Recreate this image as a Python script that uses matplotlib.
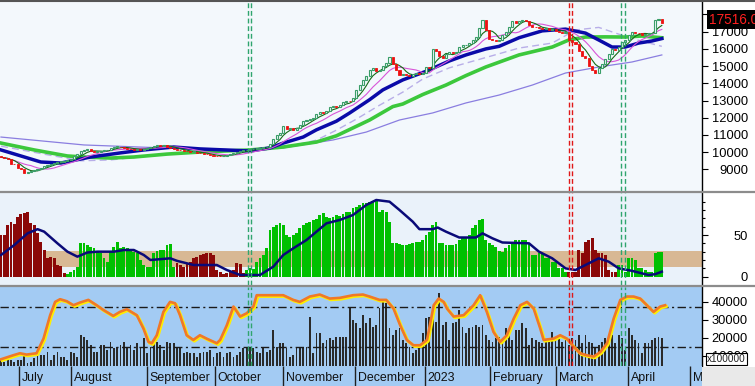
import matplotlib
matplotlib.use('Agg')
import matplotlib.pyplot as plt
import matplotlib.transforms as mtransforms
from matplotlib.patches import Rectangle
from matplotlib.lines import Line2D
import numpy as np
import pandas as pd

plt.rcParams['font.family'] = ['Liberation Sans', 'DejaVu Sans']

# ---- price candles (one per trading day) ----
closes = [
    9700, 9650, 9580, 9340, 9300, 9100, 9000, 8800, 8850, 8900,
    8980, 9050, 9100, 9180, 9250, 9330, 9400, 9420, 9450, 9500,
    9560, 9600, 9750, 9900, 10040, 10100, 10160, 10080, 10000, 10020,
    10050, 10100, 10150, 10220, 10300, 10330, 10280, 10250, 10200, 10180,
    10150, 10180, 10150, 10200, 10250, 10300, 10380, 10420, 10380, 10400,
    10300, 10250, 10200, 10150, 10100, 10080, 10050, 10000, 10020, 9980,
    9950, 9900, 9870, 9820, 9800, 9760, 9750, 9800, 9850, 9900,
    9950, 10000, 10050, 10100, 10150, 10170, 10180, 10200, 10230, 10280,
    10300, 10500, 10750, 11000, 11100, 11500, 11350, 11380, 11300, 11400,
    11600, 11800, 11850, 11900, 12000, 12200, 12360, 12300, 12400, 12600,
    12700, 12650, 12750, 12900, 13000, 12950, 13170, 13640, 13900, 14200,
    14400, 14800, 14900, 14700, 14800, 15000, 15200, 15550, 15100, 14800,
    14500, 14550, 14500, 14400, 14550, 14600, 14550, 14600, 14970, 14900,
    16000, 15900, 15600, 15500, 15700, 15800, 15750, 15850, 16100, 16200,
    16250, 16350, 16500, 16700, 17200, 17700, 17100, 16600, 16500, 16450,
    16500, 16800, 17000, 17300, 17600, 17500, 17600, 17700, 17650, 17400,
    17300, 17250, 17200, 17150, 17200, 17100, 17150, 17050, 17000, 16950,
    17000, 16500, 16400, 16300, 15900, 15600, 15500, 15000, 14800, 14600,
    14900, 15100, 15400, 15700, 16000, 15950, 16100, 16400, 16500, 16800,
    17000, 16950, 16900, 16800, 16850, 16900, 16950, 17700, 17750, 17516,
]
opens = [
    9800, 9700, 9650, 9580, 9340, 9300, 9100, 9000, 8800, 8850,
    8900, 8980, 9050, 9100, 9180, 9250, 9330, 9400, 9420, 9450,
    9500, 9560, 9600, 9750, 9900, 10040, 10100, 10160, 10080, 10000,
    10020, 10050, 10100, 10150, 10220, 10300, 10330, 10280, 10250, 10200,
    10180, 10150, 10180, 10150, 10200, 10250, 10300, 10380, 10420, 10380,
    10400, 10300, 10250, 10200, 10150, 10100, 10080, 10050, 10000, 10020,
    9980, 9950, 9900, 9870, 9820, 9800, 9760, 9750, 9800, 9850,
    9900, 9950, 10000, 10050, 10100, 10150, 10170, 10180, 10200, 10230,
    10280, 10300, 10500, 10750, 11000, 11100, 11500, 11350, 11380, 11300,
    11400, 11600, 11800, 11850, 11900, 12000, 12200, 12360, 12300, 12400,
    12600, 12700, 12650, 12750, 12900, 13000, 12950, 13170, 13640, 13900,
    14200, 14400, 14800, 14900, 14700, 14800, 15000, 15200, 15550, 15100,
    14800, 14500, 14550, 14500, 14400, 14550, 14600, 14550, 14600, 14970,
    14900, 16000, 15900, 15600, 15500, 15700, 15800, 15750, 15850, 16100,
    16200, 16250, 16350, 16500, 16700, 17200, 17700, 17100, 16600, 16500,
    16450, 16500, 16800, 17000, 17300, 17600, 17500, 17600, 17700, 17650,
    17400, 17300, 17250, 17200, 17150, 17200, 17100, 17150, 17050, 17000,
    16950, 17000, 16500, 16400, 16300, 15900, 15600, 15500, 15000, 14800,
    14600, 14900, 15100, 15400, 15700, 16000, 15950, 16100, 16400, 16500,
    16800, 17000, 16950, 16900, 16800, 16850, 16900, 16950, 17700, 17750,
]
last_price = '17516.0'

# ---- longer moving averages (bar index, value) ----
navy_idx = [0, 12, 18, 27, 36, 43, 52, 60, 75, 81, 85, 91, 95, 101, 105, 111, 115, 121,
            128, 135, 140, 146, 150, 156, 163, 170, 176, 180, 184, 188, 192, 196, 199]
navy_val = [10130, 9430, 9370, 9720, 9960, 10130, 10300, 10190, 10070, 10250, 10530, 10880,
            11300, 11800, 12280, 13050, 13620, 14200, 14700, 15300, 15650, 16000, 16150,
            16650, 17050, 17150, 16920, 16520, 16110, 16110, 16340, 16460, 16600]
lime_idx = [0, 10, 20, 25, 33, 40, 50, 60, 75, 85, 95, 101, 111, 118, 121, 127, 134, 140,
            146, 156, 166, 171, 176, 182, 188, 193, 199]
lime_val = [10530, 10130, 9780, 9720, 9660, 9720, 9890, 10010, 10130, 10300, 10590, 10950,
            11870, 12650, 12800, 13350, 13900, 14450, 14950, 15650, 16110, 16520, 16690,
            16700, 16690, 16750, 16650]
slow_idx = [0, 25, 50, 75, 85, 100, 110, 120, 130, 140, 150, 160, 170, 180, 190, 199]
slow_val = [10880, 10420, 10240, 10130, 10250, 10710, 11170, 11870, 12280, 12860, 13320,
            13900, 14600, 14950, 15240, 15650]
dash_idx = [0, 14, 24, 33, 43, 60, 75, 85, 95, 101, 107, 114, 121, 127, 135, 146, 156,
            166, 173, 180, 190, 199]
dash_val = [10350, 9850, 9500, 9550, 9750, 10050, 10050, 10250, 10700, 11280, 11920, 12730,
            13490, 14250, 14900, 15500, 16050, 16340, 17100, 17250, 16600, 16150]

# ---- middle indicator ----
mid_vals = [
    50, 50, 62, 65, 63, 72, 75, 76, 78, 64,
    62, 52, 42, 32, 22, 24, 22, 14, 13, 4,
    3, 5, 8, 12, 40, 40, 38, 36, 34, 30,
    28, 22, 18, 30, 36, 42, 34, 35, 34, 31,
    30, 28, 20, 14, 12, 12, 28, 31, 32, 32,
    38, 39, 12, 16, 14, 12, 16, 18, 22, 24,
    26, 27, 28, 28, 26, 8, 5, 3, 4, 6,
    8, 16, 15, 4, 8, 10, 9, 18, 22, 26,
    34, 56, 60, 62, 64, 62, 50, 48, 50, 52,
    58, 62, 64, 66, 68, 69, 74, 76, 72, 70,
    72, 74, 73, 75, 77, 78, 82, 84, 86, 88,
    88, 90, 91, 92, 78, 80, 78, 66, 40, 40,
    39, 38, 38, 39, 40, 42, 42, 44, 50, 54,
    62, 66, 40, 40, 38, 38, 38, 39, 44, 46,
    48, 50, 58, 62, 68, 69, 44, 40, 38, 36,
    31, 30, 34, 38, 42, 44, 44, 44, 44, 40,
    26, 26, 28, 28, 22, 22, 18, 18, 10, 10,
    6, 6, 6, 6, 32, 28, 42, 44, 46, 32,
    28, 28, 26, 8, 6, 6, 14, 14, 6, 22,
    22, 20, 10, 10, 8, 6, 6, 28, 30, 30,
]
# first bar of each colour run: 'r' = falling side, 'g' = rising side
mid_runs = [(0, 'r'), (20, 'g'), (53, 'r'), (74, 'g'), (171, 'r'), (186, 'g')]
adx_idx = [0, 4, 8, 11, 13, 17, 20, 23, 26, 29, 34, 37, 40, 43, 45, 51, 53, 58, 65, 68, 72,
           78, 82, 85, 88, 92, 95, 98, 102, 106, 110, 113, 117, 120, 124, 126, 130, 131.5,
           134, 138, 143, 145, 148, 151, 159, 162, 166, 170, 173, 176, 180, 183, 186, 190,
           193, 195, 197, 199]
adx_val = [26, 38, 52, 57, 54, 40, 30, 24, 29, 30, 30, 32, 32, 26, 20, 22, 19, 14, 14, 8, 2,
           2, 12, 26, 34, 44, 54, 64, 68, 74, 86, 92, 90, 80, 66, 57, 57, 59, 54, 47, 47, 52,
           46, 41, 40, 30, 22, 10, 8, 14, 22, 18, 10, 7, 4, 2, 3, 6]
band_lo, band_hi, band_from = 11, 31, 13

# ---- volume (x100000) and oscillator ----
volume = [
    7500, 6600, 9400, 7500, 6600, 7500, 7500, 11300, 5700, 6600,
    8500, 13100, 10300, 10300, 12200, 7500, 10300, 12200, 9400, 9400,
    7500, 12200, 11300, 9400, 21500, 20600, 18700, 15900, 12200, 12200,
    15900, 15900, 13100, 17800, 14100, 15000, 15900, 17800, 15000, 15900,
    13100, 16900, 15000, 19700, 11300, 15000, 16900, 17800, 15900, 13100,
    17800, 16900, 16900, 14100, 15000, 11300, 12200, 11300, 11300, 9400,
    11300, 12200, 12200, 13100, 9400, 11300, 12200, 9400, 11300, 12200,
    9400, 10300, 12200, 14100, 14100, 14100, 14100, 12200, 11300, 14100,
    12200, 13100, 24300, 15000, 16900, 16900, 14100, 9400, 10300, 14100,
    15000, 15000, 15000, 31700, 11300, 22400, 22400, 16900, 18700, 19700,
    18700, 20600, 20600, 20600, 20600, 36400, 29900, 28000, 25200, 32700,
    28000, 30800, 26200, 27100, 36400, 40100, 39200, 25200, 21500, 24300,
    25200, 18700, 16900, 15000, 11300, 13100, 14100, 22400, 30800, 31700,
    32700, 29000, 44800, 27100, 29000, 18700, 28000, 29000, 35500, 26200,
    22400, 25200, 26200, 27100, 26200, 27100, 21500, 18700, 17800, 19700,
    20600, 17800, 25200, 24300, 18700, 24300, 24300, 28000, 25200, 15900,
    19700, 18700, 17800, 16900, 17800, 19700, 23400, 19700, 21500, 17800,
    18700, 15900, 19700, 18700, 21500, 16900, 21500, 17800, 16900, 15000,
    15900, 17800, 19700, 18700, 21500, 16900, 21500, 19700, 13100, 25200,
    21500, 18700, 16900, 11300, 16900, 16900, 18700, 19700, 20600, 19700,
]
osc_idx = [0, 3.7, 5.7, 7.7, 10.7, 12.8, 14.8, 16.3, 17.8, 19.8, 21.8, 23.8, 26.3, 28.8,
           30.8, 33.8, 35.8, 37.9, 40.9, 42.9, 44.4, 45.4, 46.9, 48.9, 50.9, 52.4, 53.9,
           55.9, 57.9, 59.9, 61.9, 65, 66, 68, 70, 72, 74, 76, 77, 80, 85, 88, 90, 93, 96,
           99, 102, 106, 109, 111, 114, 116, 118.2, 120.2, 122.2, 124.2, 126.2, 128.3,
           130.3, 131.8, 133.3, 134.3, 136.3, 139.3, 142.3, 144.3, 146.3, 148.3, 150.3,
           152.3, 154.4, 156.4, 158.4, 160.4, 162.4, 163.4, 166.4, 168.4, 170.4, 172.4,
           174.4, 176.4, 178.5, 180.5, 182.5, 184.5, 186.5, 188.5, 190.5, 192.5, 194.5,
           196.5, 198.5, 200]
osc_val = [2, 8, 11, 9, 11, 33, 68, 88, 92, 89, 83, 87, 91, 83, 76, 67, 73, 77, 68, 48, 28,
           26, 38, 73, 88, 86, 68, 38, 31, 38, 33, 26, 31, 53, 81, 66, 71, 81, 98, 98, 98, 91,
           88, 96, 99, 93, 94, 98, 99, 96, 91, 91, 78, 53, 31, 23, 23, 31, 83, 93, 88, 78, 66,
           68, 83, 98, 73, 43, 28, 38, 63, 83, 88, 78, 48, 31, 33, 38, 33, 21, 11, 8, 6, 13,
           26, 63, 91, 96, 96, 93, 83, 73, 81, 83]
osc_levels = [20, 80]

month_names = ['July', 'August', 'September', 'October', 'November', 'December',
               '2023', 'February', 'March', 'April', 'M']
month_pos = [5.4, 21.1, 44.0, 64.5, 85.0, 106.6, 127.7, 147.3, 167.2, 188.9, 207.5]
sig_green = [74.4, 75.3, 186.7, 188.0]
sig_red = [171.1, 172.0]

# ---------------------------------------------------------------
W, H = 755, 386
fig = plt.figure(figsize=(7.55, 3.86), dpi=100)
fig.patch.set_facecolor('white')


def rect(x0, y0, x1, y1):
    return [x0 / W, 1 - y1 / H, (x1 - x0) / W, (y1 - y0) / H]


ax1 = fig.add_axes(rect(0, 2, 702, 191), facecolor='#f3f8fc')
ax2 = fig.add_axes(rect(0, 193, 702, 285), facecolor='#eaf2fa')
ax3 = fig.add_axes(rect(0, 287, 702, 366), facecolor='#a3cbf3')
ax3o = fig.add_axes(rect(0, 287, 702, 366), facecolor='none')
ax4 = fig.add_axes(rect(0, 366, 702, 386), facecolor='#a3cbf3')

xlim = (-0.3, 211.1)
for ax in (ax1, ax2, ax3, ax3o, ax4):
    ax.set_xlim(*xlim)
    ax.set_xticks([])
    for s in ('left', 'top', 'bottom'):
        ax.spines[s].set_visible(False)
    ax.spines['right'].set_color('black')
    ax.spines['right'].set_linewidth(1)
ax3o.axis('off')
ax4.spines['right'].set_visible(False)
ax4.set_yticks([])

x = np.arange(len(closes))

# --- price panel ---
ax1.set_ylim(7745, 18726)
ma5 = pd.Series(closes).rolling(5, min_periods=1).mean()
ma10 = pd.Series(closes).rolling(10, min_periods=1).mean()
ax1.plot(slow_idx, slow_val, color='#8a7ee0', lw=0.9, zorder=2)
ax1.plot(dash_idx, dash_val, color='#b8aee8', lw=1.0, ls=(0, (5, 3)), zorder=2)
ax1.plot(lime_idx, lime_val, color='#3cc83c', lw=2.6, zorder=3)
ax1.plot(navy_idx, navy_val, color='#0a0aa8', lw=2.5, zorder=3)
ax1.plot(x, ma10, color='#d855d8', lw=0.8, zorder=4)
ax1.plot(x, ma5, color='#176b17', lw=0.8, zorder=4)

o = np.array(opens)
c = np.array(closes)
up = c >= o
body = np.abs(c - o)
low = np.minimum(o, c)
ax1.bar(x[up], np.maximum(body[up], 40), bottom=low[up], width=0.62,
        facecolor='#f3f8fc', edgecolor='#3a9e68', linewidth=0.8, zorder=5)
ax1.bar(x[~up], body[~up], bottom=low[~up], width=0.62,
        facecolor='#ee1111', edgecolor='#ee1111', linewidth=0.6, zorder=5)

ax1.yaxis.tick_right()
ax1.set_yticks(range(9000, 18001, 1000))
ax1.set_yticklabels([str(v) if v < 18000 else '' for v in range(9000, 18001, 1000)])
ax1.tick_params(axis='y', direction='out', length=4.5, width=0.8, pad=28.6,
                labelsize=9.3, colors='black')
for lab in ax1.get_yticklabels():
    lab.set_horizontalalignment('right')

# --- middle panel ---
ax2.set_ylim(-10, 100.4)
ax2.fill_between([band_from - 0.5, xlim[1]], band_lo, band_hi, color='#d8b894',
                 lw=0, zorder=1)
colors = []
run_starts = [r[0] for r in mid_runs] + [len(mid_vals)]
for k, (start, col) in enumerate(mid_runs):
    colors += [col] * (run_starts[k + 1] - start)
bar_cols = ['#00c000' if cc == 'g' else '#8b0808' for cc in colors]
ax2.bar(x, mid_vals, width=0.86, color=bar_cols, linewidth=0, zorder=2)
ax2.plot(adx_idx, adx_val, color='#0a0a78', lw=1.8, zorder=3)
ax2.yaxis.tick_right()
ax2.set_yticks([0, 50])
ax2.set_yticks(range(0, 100, 10), minor=True)
ax2.tick_params(axis='y', which='major', direction='out', length=4.5, width=0.8,
                pad=28.6, labelsize=9.3)
ax2.tick_params(axis='y', which='minor', direction='out', length=2.5, width=0.8)
for lab in ax2.get_yticklabels():
    lab.set_horizontalalignment('right')

# --- volume / oscillator panel ---
ax3.set_ylim(4190, 48320)
ax3.bar(x, volume, width=0.55, color='#2a2a2a', linewidth=0, zorder=2)
ax3.yaxis.tick_right()
ax3.set_yticks([10000, 20000, 30000, 40000])
ax3.tick_params(axis='y', direction='out', length=4.5, width=0.8, pad=28.6,
                labelsize=9.3)
for lab in ax3.get_yticklabels():
    lab.set_horizontalalignment('right')

ax3o.set_ylim(-8.1, 110.3)
for lv in osc_levels:
    ax3o.axhline(lv, color='#1a1a1a', lw=1, ls=(0, (6, 2.5, 1.5, 2.5)), zorder=3)
shadow = mtransforms.offset_copy(ax3o.transData, fig=fig, x=1.2, y=-1.2, units='dots')
ax3o.plot(osc_idx, osc_val, color='#ffee00', lw=2.2, transform=shadow, zorder=4)
ax3o.plot(osc_idx, osc_val, color='#f07828', lw=1.9, zorder=5)

# --- signal lines ---
for ax in (ax1, ax2, ax3o):
    for p in sig_green:
        ax.axvline(p, color='#2fa56e', lw=1, ls=(0, (3.5, 2)), zorder=6)
    for p in sig_red:
        ax.axvline(p, color='#e01818', lw=1, ls=(0, (3.5, 2)), zorder=6)

# --- date strip ---
ax4.set_ylim(0, 1)
ax4.vlines(month_pos, 0, 1, color='#202020', lw=1)
for p, name in zip(month_pos, month_names):
    ax4.text(p + 0.8, 0.42, name, fontsize=8.9, ha='left', va='center',
             color='#111111', clip_on=True)

# --- separators and decorations ---
fig.add_artist(Line2D([0, 1], [1 - 0.8 / H] * 2, color='#555555', lw=1.5))
for yy in (192, 286):
    fig.add_artist(Line2D([0, 1], [1 - yy / H] * 2, color='#8c8c8c', lw=1.6))
fig.add_artist(Rectangle((702 / W, 0), 53 / W, 19 / H, transform=fig.transFigure,
                         facecolor='#e9e9e9', edgecolor='none'))
fig.text(709 / W, 1 - 19.5 / H, last_price, color='#ff2020', fontsize=9.8,
         ha='left', va='center', bbox=dict(facecolor='black', edgecolor='none', pad=1.6))
fig.text(707 / W, 1 - 359 / H, 'x100000', color='#202020', fontsize=7.2,
         ha='left', va='center',
         bbox=dict(facecolor='white', edgecolor='black', linewidth=0.8, pad=1.0))

fig.savefig('out.png', dpi=100)
